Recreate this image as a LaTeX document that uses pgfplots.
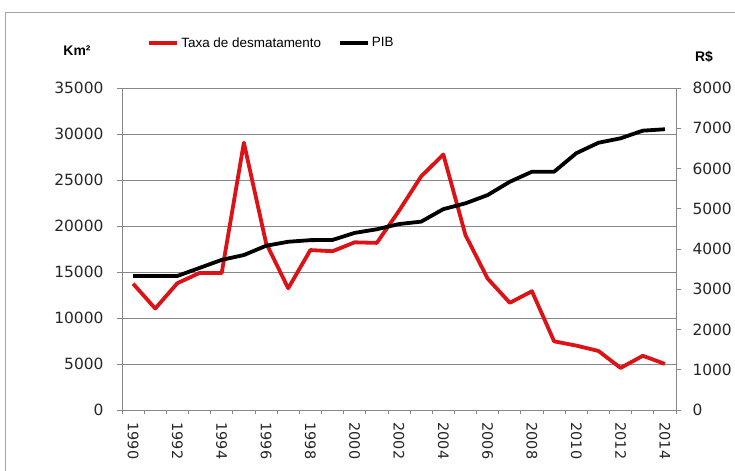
\documentclass[border=0pt]{standalone}
\usepackage{fontspec}
\setmainfont{DejaVu Sans}
\newfontfamily\arialf{Liberation Sans}
\usepackage{pgfplots}
\pgfplotsset{compat=1.18}
\definecolor{redline}{RGB}{220,18,22}
\definecolor{axgray}{RGB}{135,135,135}

\pgfplotstableread{
ano taxa
0 13730
1 11030
2 13786
3 14896
4 14896
5 29059
6 18161
7 13227
8 17383
9 17259
10 18226
11 18165
12 21651
13 25396
14 27772
15 19014
16 14286
17 11651
18 12911
19 7464
20 7000
21 6418
22 4571
23 5891
24 5012
}\taxa

\pgfplotstableread{
ano pib
0 3330
1 3330
2 3330
3 3530
4 3730
5 3850
6 4080
7 4180
8 4220
9 4225
10 4400
11 4490
12 4620
13 4680
14 4990
15 5135
16 5340
17 5670
18 5920
19 5920
20 6380
21 6640
22 6750
23 6940
24 6975
}\pib

\pgfplotsset{
  base/.style={
    at={(0bp,0bp)}, anchor=south west,
    scale only axis, width=554bp, height=322bp,
    xmin=-0.5, xmax=24.5, ymin=0,
    axis line style={axgray, line width=0.8bp},
    tick align=outside,
    major tick length=5bp, minor tick length=4bp,
    every tick/.style={axgray, line width=0.8bp},
    scaled y ticks=false,
    /pgf/number format/1000 sep={},
    /pgf/number format/assume math mode=true,
    tick label style={font=\fontsize{15.5}{18}\selectfont, text=black!85},
  },
}

\begin{document}
\begin{tikzpicture}
\useasboundingbox (-122bp,-61bp) rectangle (613bp,410bp);
\draw[black!35, line width=0.8bp] (-117bp,-80bp) -- (-117bp,398bp) -- (640bp,398bp);

\begin{axis}[
  base,
  ymax=35000,
  axis x line*=bottom, axis y line*=left,
  ytick={0,5000,...,35000},
  ymajorgrids, grid style={axgray, line width=0.8bp},
  xtick={0,2,...,24},
  xticklabels={1990,1992,1994,1996,1998,2000,2002,2004,2006,2008,2010,2012,2014},
  minor xtick={-0.5,0.5,...,24.5},
  major x tick style={draw=none},
  xticklabel shift=4bp,
  xticklabel style={rotate=-90, anchor=west, font=\fontsize{14.5}{17}\selectfont},
  yticklabel style={xshift=-10bp},
  legend style={draw=none, fill=none, at={(0.27,1.14)}, anchor=center,
    font=\arialf\fontsize{13.5}{16}\selectfont,
    /tikz/every even column/.append style={column sep=15bp}},
  legend columns=2,
  legend image code/.code={\draw[#1, line width=3.8bp] (0bp,0bp) -- (28bp,0bp);},
]
\addplot[redline, line width=3.8bp, line join=round] table[x=ano, y=taxa] {\taxa};
\addlegendentry{Taxa de desmatamento}
\addlegendimage{black, line width=3.8bp}
\addlegendentry{PIB}
\end{axis}

\begin{axis}[
  base,
  ymax=8000,
  axis x line=none, axis y line*=right,
  ytick={0,1000,...,8000},
  yticklabel style={xshift=8bp},
]
\addplot[black, line width=3.8bp, line join=round] table[x=ano, y=pib] {\pib};
\end{axis}

\node[font=\arialf\bfseries\fontsize{14}{16}\selectfont] at (-45bp,359bp) {Km²};
\node[font=\arialf\bfseries\fontsize{14}{16}\selectfont] at (582bp,353bp) {R\$};
\end{tikzpicture}
\end{document}
